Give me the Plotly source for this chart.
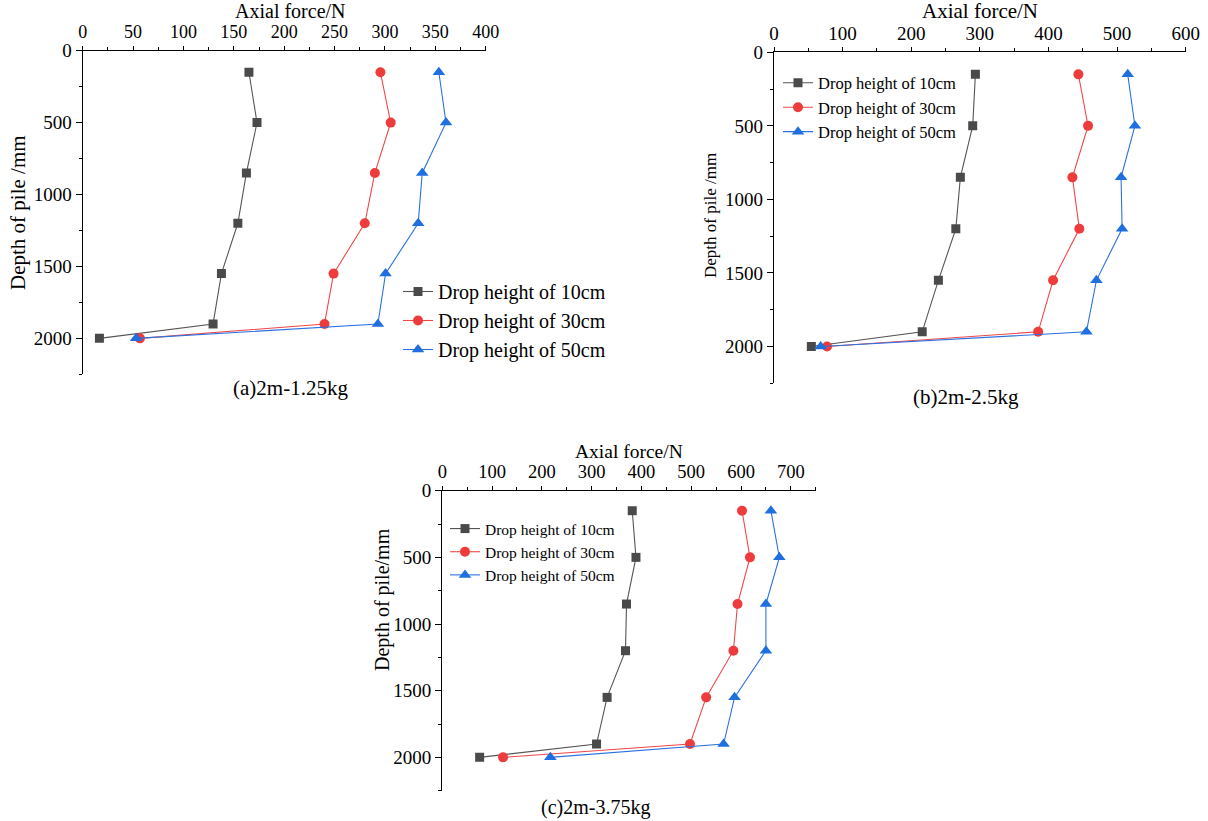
import plotly.graph_objects as go

W, H = 1208, 821

depth = [150, 500, 850, 1200, 1550, 1900, 2000]
series_names = ["Drop height of 10cm", "Drop height of 30cm", "Drop height of 50cm"]

a_10 = [165, 173, 162.5, 154, 137.7, 129.4, 16.6]
a_30 = [295.5, 305.7, 290, 280, 249, 240, 56.8]
a_50 = [353.5, 360.6, 337, 333, 300.6, 293, 53]

b_10 = [293.5, 289.6, 271.6, 265, 239.6, 216, 54.4]
b_30 = [443.6, 457.7, 434.9, 445, 406.7, 385, 77.3]
b_50 = [515.5, 526, 505.8, 507.3, 469.9, 455.3, 68]

c_10 = [381.5, 389, 370, 368, 331, 309.8, 75]
c_30 = [602, 618, 593, 584.7, 530, 497.5, 122]
c_50 = [660, 677, 650, 650, 587, 565, 217]

captions = ["(a)2m-1.25kg", "(b)2m-2.5kg", "(c)2m-3.75kg"]
x_title = "Axial force/N"
y_titles = ["Depth of pile /mm", "Depth of pile /mm", "Depth of pile/mm"]

FONT = "Liberation Serif"
colors = ["#4a4a4a", "#ee3b3b", "#1f6fe0"]
line_colors = ["#555555", "#f04848", "#2a72e0"]
symbols = ["square", "circle", "triangle-up"]
msizes = [9, 10, 11]


def px(x):
    return x / W


def py(y):
    return 1 - y / H


panels = [
    dict(data=[a_10, a_30, a_50], xd=(82.7, 485.7), yd=(50.7, 374.3), xr=(0, 400),
         dtick=50, minor=25, xtickfs=18, ytickfs=19, legend=(398, 272, 20), xt=(290, 11),
         xtfs=20, yt=(18, 213), ytfs=21, cap=(290, 388), capfs=21),
    dict(data=[b_10, b_30, b_50], xd=(774, 1185.7), yd=(52.3, 383.3), xr=(0, 600),
         dtick=100, minor=50, xtickfs=19, ytickfs=19, legend=(778, 65.5, 16.5), xt=(980, 11),
         xtfs=21, yt=(710, 215), ytfs=17, cap=(966, 397), capfs=21),
    dict(data=[c_10, c_30, c_50], xd=(442.3, 815.7), yd=(490.7, 790.7), xr=(0, 750),
         dtick=100, minor=50, xtickfs=18.5, ytickfs=19, legend=(445, 512, 15.5), xt=(629, 451),
         xtfs=19.5, yt=(382, 600), ytfs=20, cap=(595, 807), capfs=20),
]

fig = go.Figure()
annotations = []
layout = dict(width=W, height=H, margin=dict(l=0, r=0, t=0, b=0, pad=0, autoexpand=False),
              paper_bgcolor="white", plot_bgcolor="white",
              font=dict(family=FONT, color="black"), showlegend=True)

for i, p in enumerate(panels):
    k = "" if i == 0 else str(i + 1)
    xa, ya, lg = "x" + k, "y" + k, "legend" + k
    for j in range(3):
        fig.add_trace(go.Scatter(
            x=p["data"][j], y=depth, mode="lines+markers", name=series_names[j],
            xaxis=xa, yaxis=ya, legend=lg,
            line=dict(color=line_colors[j], width=1.1),
            marker=dict(symbol=symbols[j], size=msizes[j], color=colors[j]),
        ))
    layout["xaxis" + k] = dict(
        domain=[px(p["xd"][0]), px(p["xd"][1])], anchor=ya, side="top",
        range=list(p["xr"]), tick0=0, dtick=p["dtick"], showline=True, linecolor="black",
        linewidth=1.3, ticks="outside", ticklen=4, tickwidth=1.3, tickcolor="black",
        minor=dict(dtick=p["minor"], tick0=0, ticks="outside", ticklen=3, tickwidth=1.1,
                   tickcolor="black"),
        showgrid=False, zeroline=False, automargin=False,
        tickfont=dict(size=p["xtickfs"], family=FONT, color="black"),
    )
    layout["yaxis" + k] = dict(
        domain=[py(p["yd"][1]), py(p["yd"][0])], anchor=xa,
        range=[2250, 0], tick0=0, dtick=500, showline=True, linecolor="black",
        linewidth=1.3, ticks="outside", ticklen=6, tickwidth=1.3, tickcolor="black",
        minor=dict(dtick=250, tick0=0, ticks="outside", ticklen=3, tickwidth=1.1,
                   tickcolor="black"),
        showgrid=False, zeroline=False, automargin=False,
        tickfont=dict(size=p["ytickfs"], family=FONT, color="black"),
    )
    lx, ly, lfs = p["legend"]
    layout[lg] = dict(x=px(lx), y=py(ly), xanchor="left", yanchor="top",
                      bgcolor="rgba(0,0,0,0)", borderwidth=0,
                      font=dict(size=lfs, family=FONT, color="black"),
                      tracegroupgap=0)
    annotations.append(dict(text=x_title, x=px(p["xt"][0]), y=py(p["xt"][1]),
                            xref="paper", yref="paper", showarrow=False,
                            xanchor="center", yanchor="middle",
                            font=dict(size=p["xtfs"], family=FONT)))
    annotations.append(dict(text=y_titles[i], x=px(p["yt"][0]), y=py(p["yt"][1]),
                            xref="paper", yref="paper", showarrow=False, textangle=-90,
                            xanchor="center", yanchor="middle",
                            font=dict(size=p["ytfs"], family=FONT)))
    annotations.append(dict(text=captions[i], x=px(p["cap"][0]), y=py(p["cap"][1]),
                            xref="paper", yref="paper", showarrow=False,
                            xanchor="center", yanchor="middle",
                            font=dict(size=p["capfs"], family=FONT)))

layout["annotations"] = annotations
fig.update_layout(**layout)
fig.write_html("out.html", config={"displayModeBar": False},
               post_script="document.body.style.margin='0';document.body.style.overflow='hidden';")
